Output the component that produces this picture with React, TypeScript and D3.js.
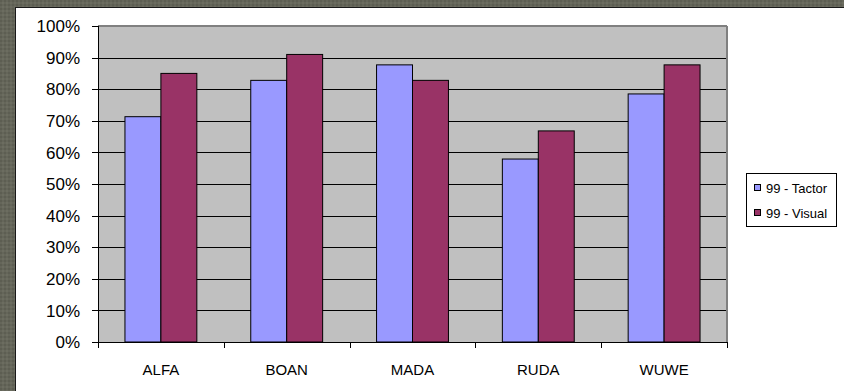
import React from "react";
import * as d3 from "d3";

// Survey scores per site, two series
const categories = ["ALFA", "BOAN", "MADA", "RUDA", "WUWE"];
const seriesNames = ["99 - Tactor", "99 - Visual"];
const tactorValues = [0.713, 0.828, 0.877, 0.579, 0.785];
const visualValues = [0.85, 0.91, 0.828, 0.668, 0.877];
const yTicks = [0, 0.1, 0.2, 0.3, 0.4, 0.5, 0.6, 0.7, 0.8, 0.9, 1.0];

const seriesColors = ["#9999FF", "#993366"];

const W = 844;
const H = 391;
const plot = { left: 98, top: 26, right: 727, bottom: 342 };
const font = "'Liberation Sans', Arial, sans-serif";

export default function App() {
  const x0 = d3
    .scaleBand<string>()
    .domain(categories)
    .range([plot.left, plot.right])
    .paddingInner(0)
    .paddingOuter(0);
  const bandW = x0.bandwidth();
  const barW = bandW / 3.5; // gap width 150%
  const groupOffset = (bandW - 2 * barW) / 2;
  const y = d3.scaleLinear().domain([0, 1]).range([plot.bottom, plot.top]);
  const fmt = d3.format(".0%");
  const series = [tactorValues, visualValues];

  return (
    <svg
      width={W}
      height={H}
      style={{ position: "absolute", left: 0, top: 0 }}
      fontFamily={font}
    >
      <defs>
        <pattern id="bgTex" width="4" height="4" patternUnits="userSpaceOnUse">
          <rect width="4" height="4" fill="#65665a" />
          <rect width="2" height="2" fill="#5d5e52" />
          <rect x="2" y="2" width="2" height="2" fill="#6c6d60" />
        </pattern>
      </defs>
      <rect width={W} height={H} fill="url(#bgTex)" />
      {/* chart panel */}
      <rect x={15} y={7} width={W - 15} height={H - 7} fill="#1a1a1a" />
      <rect x={16} y={8} width={W - 16} height={H - 8} fill="#ffffff" />

      {/* plot area */}
      <rect
        x={plot.left}
        y={plot.top}
        width={plot.right - plot.left}
        height={plot.bottom - plot.top}
        fill="#C0C0C0"
      />
      {/* gridlines */}
      {yTicks.slice(1).map((t) => (
        <line
          key={"g" + t}
          x1={plot.left}
          x2={plot.right}
          y1={Math.round(y(t)) + 0.5}
          y2={Math.round(y(t)) + 0.5}
          stroke="#000"
          strokeWidth={1}
        />
      ))}
      {/* plot border top/right */}
      <line x1={plot.left} x2={plot.right} y1={plot.top} y2={plot.top} stroke="#808080" strokeWidth={2} />
      <line x1={plot.right} x2={plot.right} y1={plot.top} y2={plot.bottom} stroke="#808080" strokeWidth={2} />

      {/* bars */}
      {categories.map((c, i) =>
        series.map((vals, s) => {
          const bx = (x0(c) as number) + groupOffset + s * barW;
          const by = y(vals[i]);
          return (
            <rect
              key={c + s}
              x={bx}
              y={by}
              width={barW}
              height={plot.bottom - by}
              fill={seriesColors[s]}
              stroke="#000"
              strokeWidth={1}
            />
          );
        })
      )}

      {/* y axis */}
      <line x1={plot.left + 0.5} x2={plot.left + 0.5} y1={plot.top} y2={plot.bottom} stroke="#000" />
      {yTicks.map((t) => (
        <g key={"y" + t}>
          <line
            x1={plot.left - 6}
            x2={plot.left}
            y1={Math.round(y(t)) + 0.5}
            y2={Math.round(y(t)) + 0.5}
            stroke="#000"
          />
          <text
            x={80}
            y={y(t)}
            dy="0.36em"
            textAnchor="end"
            fontSize={17}
            fill="#000"
          >
            {fmt(t)}
          </text>
        </g>
      ))}

      {/* x axis */}
      <line x1={plot.left} x2={plot.right} y1={plot.bottom + 0.5} y2={plot.bottom + 0.5} stroke="#000" />
      {d3.range(categories.length + 1).map((k) => {
        const tx = Math.round(plot.left + k * bandW) + 0.5;
        return <line key={"xt" + k} x1={tx} x2={tx} y1={plot.bottom} y2={plot.bottom + 6} stroke="#000" />;
      })}
      {categories.map((c) => (
        <text
          key={"xl" + c}
          x={(x0(c) as number) + bandW / 2}
          y={374.5}
          textAnchor="middle"
          fontSize={15}
          fill="#000"
        >
          {c}
        </text>
      ))}

      {/* legend */}
      <rect x={746.5} y={173.5} width={90} height={53} fill="#fff" stroke="#000" />
      {seriesNames.map((n, s) => {
        const cy = 188 + s * 25;
        return (
          <g key={n}>
            <rect x={754.5} y={cy - 3.5} width={6} height={6} fill={seriesColors[s]} stroke="#000" />
            <text x={766} y={cy} dy="0.36em" fontSize={13} fill="#000">
              {n}
            </text>
          </g>
        );
      })}
    </svg>
  );
}
